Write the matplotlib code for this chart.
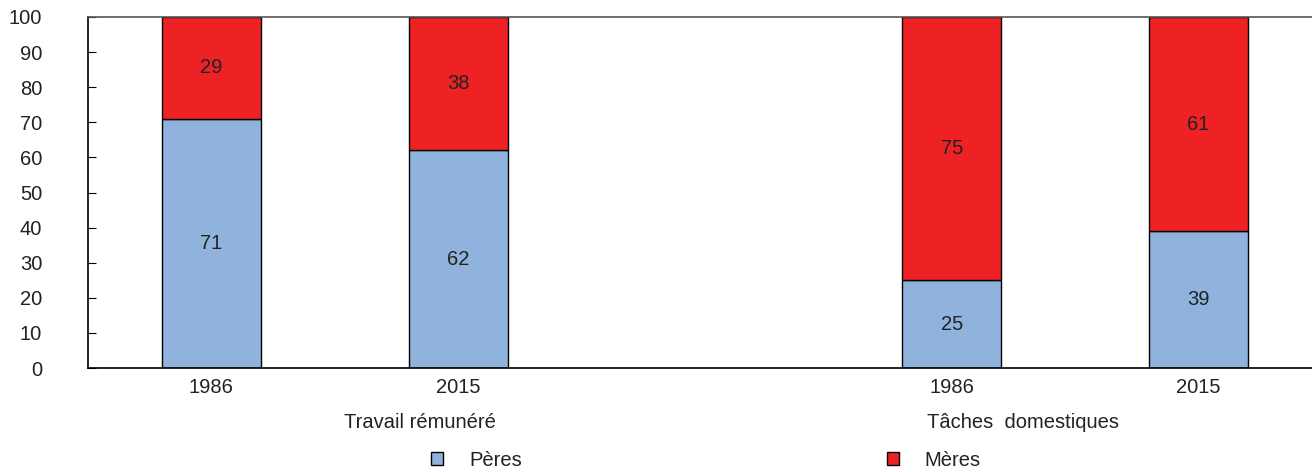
import matplotlib
matplotlib.use("Agg")
import matplotlib.pyplot as plt
from matplotlib.patches import Patch
from matplotlib.transforms import blended_transform_factory

plt.rcParams["font.family"] = ["Liberation Sans", "DejaVu Sans"]

years = ["1986", "2015", "1986", "2015"]
groups = ["Travail rémunéré", "Tâches  domestiques"]
peres = [71, 62, 25, 39]
meres = [29, 38, 75, 61]

blue = "#8FB3DD"
red = "#EE2224"
txt = "#222222"
fs = 14.5

fig = plt.figure(figsize=(13.12, 4.72), dpi=100)
ax = fig.add_axes([88 / 1312, 1 - 368 / 472, 1 - 88 / 1312, (368 - 17) / 472])

pos = [0, 1, 3, 4]
w = 0.4
ax.bar(pos, peres, width=w, color=blue, edgecolor="black", linewidth=1)
ax.bar(pos, meres, width=w, bottom=peres, color=red, edgecolor="black", linewidth=1)

for p, a, b in zip(pos, peres, meres):
    ax.text(p, a / 2, str(a), ha="center", va="center", fontsize=fs, color=txt)
    ax.text(p, a + b / 2, str(b), ha="center", va="center", fontsize=fs, color=txt)

ax.set_xlim(-0.5, 4.46)
ax.set_ylim(0, 100)
ax.set_yticks(range(0, 101, 10))
ax.set_xticks(pos)
ax.set_xticklabels(years)
ax.tick_params(axis="y", direction="in", length=6, pad=33, labelsize=fs, labelcolor=txt)
ax.tick_params(axis="x", length=0, pad=7, labelsize=fs, labelcolor=txt)
for lab in ax.get_yticklabels():
    lab.set_horizontalalignment("right")

ax.spines["right"].set_visible(False)
ax.spines["top"].set_color("#555555")
ax.spines["top"].set_linewidth(1.2)
ax.spines["left"].set_linewidth(1.2)
ax.spines["bottom"].set_linewidth(1.2)

tr = blended_transform_factory(ax.transData, ax.transAxes)
ax.text(0.844, -0.155, groups[0], transform=tr, ha="center", va="center", fontsize=fs, color=txt)
ax.text(3.29, -0.155, groups[1], transform=tr, ha="center", va="center", fontsize=fs, color=txt)

handles = [Patch(facecolor=blue, edgecolor="black"), Patch(facecolor=red, edgecolor="black")]
fig.legend(handles, ["Pères", "Mères"], ncol=2, loc="center", bbox_to_anchor=(706 / 1312, 1 - 460 / 472),
           frameon=False, fontsize=fs, handlelength=0.6, handleheight=0.6, handletextpad=1.3,
           columnspacing=18.1, labelcolor=txt)

fig.savefig("out.png", dpi=100)
